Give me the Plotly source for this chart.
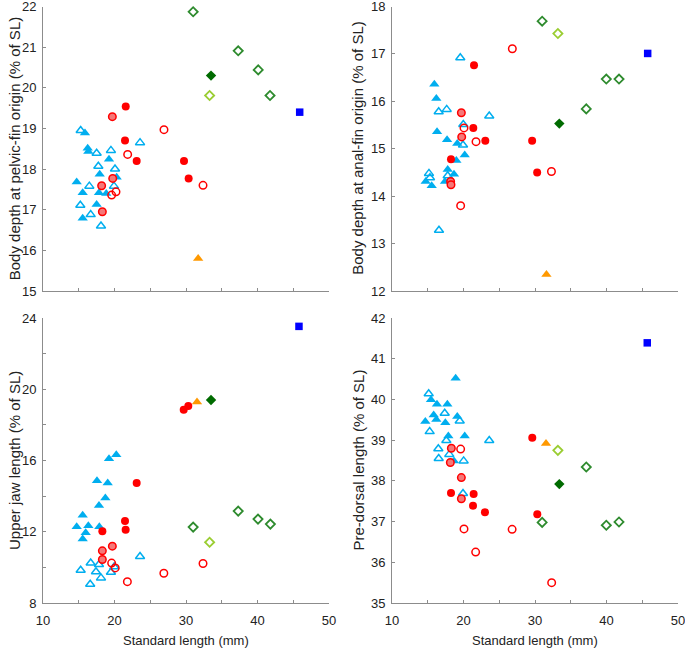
import plotly.graph_objects as go

# ---------------- data (x = standard length, mm) ----------------
# Top-left: body depth at pelvic-fin origin (% SL)
tl_bf_x = [15.87, 16.25, 16.34, 19.23, 17.93, 14.71, 15.55, 17.83, 18.85, 17.5, 15.55, 20.3]
tl_bf_y = [18.89, 18.51, 18.43, 18.24, 17.87, 17.68, 17.42, 17.42, 17.40, 17.13, 16.79, 17.80]
tl_bo_x = [15.27, 23.57, 17.5, 19.5, 17.74, 20.07, 16.48, 19.93, 15.22, 16.67, 18.11]
tl_bo_y = [18.95, 18.65, 18.39, 18.46, 18.07, 18.0, 17.58, 17.58, 17.11, 16.88, 16.60]
tl_rf_x = [21.57, 21.47, 23.1, 29.72, 30.37]
tl_rf_y = [19.54, 18.70, 18.20, 18.20, 17.77]
tl_ro_x = [26.92, 21.84, 32.38, 20.21, 19.6]
tl_ro_y = [18.97, 18.36, 17.60, 17.44, 17.36]
tl_rs_x = [19.7, 19.75, 18.2, 18.3]
tl_rs_y = [19.29, 17.77, 17.59, 16.95]
tl_or_x = [31.7]
tl_or_y = [15.8]
tl_gf_x = [33.5]
tl_gf_y = [20.30]
tl_go_x = [31.0, 37.3, 40.1, 41.75]
tl_go_y = [21.87, 20.91, 20.44, 19.81]
tl_yg_x = [33.3]
tl_yg_y = [19.81]
tl_sq_x = [45.9]
tl_sq_y = [19.40]

# Top-right: body depth at anal-fin origin (% SL)
tr_bf_x = [15.92, 16.2, 16.3, 17.7, 19.13, 20.17, 19.0, 17.79, 18.67, 17.41, 14.71, 15.55]
tr_bf_y = [16.36, 16.06, 15.36, 15.19, 15.11, 14.87, 14.75, 14.56, 14.46, 14.31, 14.31, 14.22]
tr_bo_x = [19.55, 16.53, 17.65, 23.6, 19.97, 19.93, 15.17, 15.31, 17.79, 16.57]
tr_bo_y = [16.92, 15.78, 15.83, 15.69, 15.51, 15.08, 14.48, 14.39, 14.43, 13.28]
tr_rf_x = [21.47, 21.37, 23.05, 18.25, 29.6, 30.3]
tr_rf_y = [16.76, 15.44, 15.17, 14.78, 15.17, 14.50]
tr_ro_x = [26.83, 21.75, 19.6, 20.07, 32.3]
tr_ro_y = [17.11, 15.15, 13.80, 15.44, 14.52]
tr_rs_x = [19.7, 19.75, 18.2, 18.25]
tr_rs_y = [15.76, 15.25, 14.31, 14.24]
tr_or_x = [31.6]
tr_or_y = [12.35]
tr_gf_x = [33.4]
tr_gf_y = [15.53]
tr_go_x = [31.0, 39.97, 41.75, 37.17]
tr_go_y = [17.69, 16.47, 16.47, 15.84]
tr_yg_x = [33.2]
tr_yg_y = [17.43]
tr_sq_x = [45.76]
tr_sq_y = [17.01]

# Bottom-left: upper jaw length (% SL)
bl_bf_x = [19.23, 20.25, 17.55, 19.05, 18.72, 17.83, 15.55, 14.71, 16.34, 17.88, 15.97, 15.55]
bl_bf_y = [16.10, 16.32, 14.86, 14.73, 13.90, 13.48, 12.92, 12.28, 12.33, 12.28, 11.94, 11.60]
bl_bo_x = [23.57, 16.67, 17.83, 15.27, 17.41, 19.5, 19.97, 18.11, 16.6]
bl_bo_y = [10.61, 10.25, 10.16, 9.84, 9.75, 9.73, 10.03, 9.41, 9.05]
bl_rf_x = [29.68, 30.32, 23.1, 21.47, 21.56, 18.3]
bl_rf_y = [18.85, 19.06, 14.73, 12.61, 12.11, 12.03]
bl_ro_x = [19.6, 20.1, 26.9, 32.38, 21.8]
bl_ro_y = [10.24, 9.97, 9.67, 10.22, 9.2]
bl_rs_x = [19.7, 18.3, 18.3]
bl_rs_y = [11.19, 10.93, 10.44]
bl_or_x = [31.54]
bl_or_y = [19.28]
bl_gf_x = [33.5]
bl_gf_y = [19.40]
bl_go_x = [31.0, 37.3, 40.07, 41.8]
bl_go_y = [12.26, 13.16, 12.71, 12.43]
bl_yg_x = [33.3]
bl_yg_y = [11.41]
bl_sq_x = [45.8]
bl_sq_y = [23.53]

# Bottom-right: pre-dorsal length (% SL)
br_bf_x = [18.9, 15.45, 16.29, 17.74, 15.83, 16.2, 14.66, 17.46, 19.13, 17.88, 20.17, 18.67]
br_bf_y = [40.52, 39.99, 39.88, 39.88, 39.62, 39.51, 39.46, 39.43, 39.58, 39.10, 39.10, 38.49]
br_bo_x = [15.13, 17.37, 19.47, 15.27, 23.6, 16.48, 17.6, 18.01, 16.53, 20.02, 19.93]
br_bo_y = [40.14, 39.66, 39.47, 39.21, 38.99, 38.79, 38.99, 38.65, 38.55, 38.49, 37.69]
br_rf_x = [18.25, 21.42, 21.33, 23.0, 29.62, 30.32]
br_rf_y = [37.70, 37.68, 37.39, 37.23, 39.06, 37.18]
br_ro_x = [19.6, 20.07, 26.8, 21.7, 32.33]
br_ro_y = [38.78, 36.82, 36.81, 36.25, 35.50]
br_rs_x = [18.3, 18.16, 19.7, 19.7]
br_rs_y = [38.80, 38.45, 38.08, 37.56]
br_or_x = [31.54]
br_or_y = [38.92]
br_gf_x = [33.4]
br_gf_y = [37.92]
br_go_x = [37.17, 31.0, 39.97, 41.75]
br_go_y = [38.34, 36.98, 36.91, 36.99]
br_yg_x = [33.2]
br_yg_y = [38.75]
br_sq_x = [45.7]
br_sq_y = [41.39]

x_ticks = [10, 15, 20, 25, 30, 35, 40, 45, 50]
x_labels = ["10", "", "20", "", "30", "", "40", "", "50"]
tl_yticks = [15, 16, 17, 18, 19, 20, 21, 22]
tr_yticks = [12, 13, 14, 15, 16, 17, 18]
bl_yticks = [8, 10, 12, 14, 16, 18, 20, 22, 24]
bl_ylabels = ["8", "", "12", "", "16", "", "20", "", "24"]
br_yticks = [35, 36, 37, 38, 39, 40, 41, 42]

titles_y = ["Body depth at pelvic-fin origin (% of SL)",
            "Body depth at anal-fin origin (% of SL)",
            "Upper jaw length (% of SL)",
            "Pre-dorsal length (% of SL)"]
title_x = "Standard length (mm)"

# ---------------- styles ----------------
BLUE = "#00AEEF"
RED = "#FF0000"
styles = {
    "bf": dict(symbol="triangle-up", size=9, color=BLUE, line=dict(width=0)),
    "bo": dict(symbol="triangle-up-open", size=8, color=BLUE, line=dict(width=1.5, color=BLUE)),
    "rf": dict(symbol="circle", size=8, color=RED, line=dict(width=0)),
    "ro": dict(symbol="circle-open", size=7.5, color=RED, line=dict(width=1.5, color=RED)),
    "rs": dict(symbol="circle", size=7.5, color="rgba(245,120,120,1)", line=dict(width=1.5, color=RED)),
    "or": dict(symbol="triangle-up", size=9, color="#FF9900", line=dict(width=0)),
    "gf": dict(symbol="diamond", size=8, color="#006B00", line=dict(width=0)),
    "go": dict(symbol="diamond-open", size=7, color="#2E8B2E", line=dict(width=1.8, color="#2E8B2E")),
    "yg": dict(symbol="diamond-open", size=7, color="#9ACD32", line=dict(width=1.8, color="#9ACD32")),
    "sq": dict(symbol="square", size=7.5, color="#0000FF", line=dict(width=0)),
}
order = ["bo", "bf", "rs", "ro", "rf", "or", "gf", "go", "yg", "sq"]

panels = {
    "tl": dict(xa="x", ya="y", data={
        "bf": (tl_bf_x, tl_bf_y), "bo": (tl_bo_x, tl_bo_y), "rf": (tl_rf_x, tl_rf_y),
        "ro": (tl_ro_x, tl_ro_y), "rs": (tl_rs_x, tl_rs_y), "or": (tl_or_x, tl_or_y),
        "gf": (tl_gf_x, tl_gf_y), "go": (tl_go_x, tl_go_y), "yg": (tl_yg_x, tl_yg_y),
        "sq": (tl_sq_x, tl_sq_y)}),
    "tr": dict(xa="x2", ya="y2", data={
        "bf": (tr_bf_x, tr_bf_y), "bo": (tr_bo_x, tr_bo_y), "rf": (tr_rf_x, tr_rf_y),
        "ro": (tr_ro_x, tr_ro_y), "rs": (tr_rs_x, tr_rs_y), "or": (tr_or_x, tr_or_y),
        "gf": (tr_gf_x, tr_gf_y), "go": (tr_go_x, tr_go_y), "yg": (tr_yg_x, tr_yg_y),
        "sq": (tr_sq_x, tr_sq_y)}),
    "bl": dict(xa="x3", ya="y3", data={
        "bf": (bl_bf_x, bl_bf_y), "bo": (bl_bo_x, bl_bo_y), "rf": (bl_rf_x, bl_rf_y),
        "ro": (bl_ro_x, bl_ro_y), "rs": (bl_rs_x, bl_rs_y), "or": (bl_or_x, bl_or_y),
        "gf": (bl_gf_x, bl_gf_y), "go": (bl_go_x, bl_go_y), "yg": (bl_yg_x, bl_yg_y),
        "sq": (bl_sq_x, bl_sq_y)}),
    "br": dict(xa="x4", ya="y4", data={
        "bf": (br_bf_x, br_bf_y), "bo": (br_bo_x, br_bo_y), "rf": (br_rf_x, br_rf_y),
        "ro": (br_ro_x, br_ro_y), "rs": (br_rs_x, br_rs_y), "or": (br_or_x, br_or_y),
        "gf": (br_gf_x, br_gf_y), "go": (br_go_x, br_go_y), "yg": (br_yg_x, br_yg_y),
        "sq": (br_sq_x, br_sq_y)}),
}

fig = go.Figure()
for key, p in panels.items():
    for s in order:
        xs, ys = p["data"][s]
        fig.add_trace(go.Scatter(x=xs, y=ys, mode="markers", xaxis=p["xa"], yaxis=p["ya"],
                                 marker=styles[s], showlegend=False, hoverinfo="skip",
                                 cliponaxis=False))

W, H = 685, 654
def px_x(a, b):
    return [a / W, b / W]
def px_y(top, bottom):
    return [1 - bottom / H, 1 - top / H]

AX = "#8c8c8c"
SANS = "Liberation Sans, Arial, sans-serif"
TICKFONT = dict(family=SANS, size=13, color="#222222")
XTITLEFONT = dict(family=SANS, size=13, color="#222222")
YTITLEFONT = dict(family=SANS, size=15, color="#222222")

def xaxis(domain, anchor, labels):
    return dict(domain=domain, anchor=anchor, range=[10, 50], tickmode="array",
                tickvals=x_ticks, ticktext=x_labels if labels else [""] * len(x_ticks),
                showticklabels=labels, ticks="inside", ticklen=3, tickcolor=AX,
                showline=True, linecolor=AX, linewidth=1, showgrid=False, zeroline=False,
                tickfont=TICKFONT, automargin=False, ticklabelstandoff=5,
                ticklabeloverflow="allow")
def yaxis(domain, anchor, rng, tv, tt):
    return dict(domain=domain, anchor=anchor, range=rng, tickmode="array",
                tickvals=tv, ticktext=tt, ticks="inside", ticklen=3, tickcolor=AX,
                showline=True, linecolor=AX, linewidth=1, showgrid=False, zeroline=False,
                tickfont=TICKFONT, automargin=False, ticklabelstandoff=3,
                ticklabeloverflow="allow")

xl = px_x(43, 329)
xr = px_x(392, 678)
yt = px_y(6.5, 291)
yb = px_y(318, 603)

fig.update_layout(
    width=W, height=H, margin=dict(l=0, r=0, t=0, b=0),
    paper_bgcolor="white", plot_bgcolor="white", font=TICKFONT,
    xaxis=xaxis(xl, "y", False),
    yaxis=yaxis(yt, "x", [15, 22], tl_yticks, [str(v) for v in tl_yticks]),
    xaxis2=xaxis(xr, "y2", False),
    yaxis2=yaxis(yt, "x2", [12, 18], tr_yticks, [str(v) for v in tr_yticks]),
    xaxis3=xaxis(xl, "y3", True),
    yaxis3=yaxis(yb, "x3", [8, 24], bl_yticks, bl_ylabels),
    xaxis4=xaxis(xr, "y4", True),
    yaxis4=yaxis(yb, "x4", [35, 42], br_yticks, [str(v) for v in br_yticks]),
)

ann = []
ycent_t = (yt[0] + yt[1]) / 2
ycent_b = (yb[0] + yb[1]) / 2
for (xp, yc, txt) in [(14.5, ycent_t, titles_y[0]), (358, ycent_t, titles_y[1]),
                      (14.5, ycent_b, titles_y[2]), (358, ycent_b, titles_y[3])]:
    ann.append(dict(x=xp / W, y=yc, xref="paper", yref="paper", text=txt, textangle=-90,
                    showarrow=False, font=YTITLEFONT, xanchor="center", yanchor="middle"))
for xc in [(xl[0] + xl[1]) / 2, (xr[0] + xr[1]) / 2]:
    ann.append(dict(x=xc, y=1 - 640 / H, xref="paper", yref="paper", text=title_x,
                    showarrow=False, font=XTITLEFONT, xanchor="center", yanchor="middle"))
fig.update_layout(annotations=ann)

fig.write_html("out.html", config={"displayModeBar": False},
               post_script="document.body.style.margin='0';")
